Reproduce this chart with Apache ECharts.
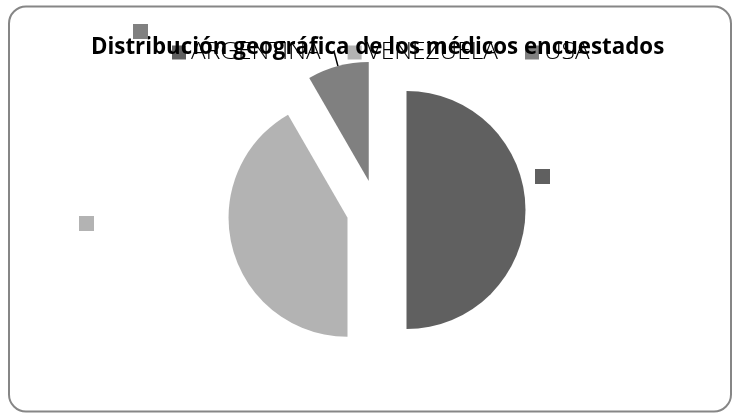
<!DOCTYPE html>
<html>
<head>
<meta charset="utf-8">
<script src="https://cdn.jsdelivr.net/npm/echarts@6/dist/echarts.min.js"></script>
<style>
  html, body { margin: 0; padding: 0; background: #fff; }
  #chart { width: 732px; height: 413px; }
</style>
</head>
<body>
<div id="chart"></div>
<script>
// Survey respondents by country
const categories = ['ARGENTINA', 'VENEZUELA', 'USA'];
const counts = [12, 10, 2];
const sliceColors = ['#606060', '#b3b3b3', '#808080'];
const titleText = 'Distribución geográfica de los médicos encuestados';

// Top-left corners of the small colour keys that stand in for slice labels
const keySpots = [[535, 169], [79, 216], [133, 24]];

const chart = echarts.init(document.getElementById('chart'), null, { renderer: 'canvas' });

// Only the USA slice keeps its (short) leader line; its label text is empty
const pieData = categories.map((name, i) => ({
  name: name,
  value: counts[i],
  selected: true,
  itemStyle: { color: sliceColors[i] },
  label: { show: name === 'USA' },
  labelLine: { show: name === 'USA' }
}));

const keyRects = categories.map((name, i) => ({
  type: 'rect',
  shape: { x: keySpots[i][0], y: keySpots[i][1], width: 15, height: 15 },
  style: { fill: sliceColors[i] },
  z: 10
}));

chart.setOption({
  animation: false,
  backgroundColor: '#fff',
  graphic: [{
    type: 'rect',
    shape: { x: 9, y: 6.5, width: 722, height: 405, r: 17 },
    style: { fill: 'none', stroke: '#868686', lineWidth: 2 },
    z: -1
  }].concat(keyRects),
  title: {
    text: titleText,
    left: 91,
    top: 37,
    padding: 0,
    textStyle: { fontFamily: 'Open Sans', fontWeight: 'bold', fontSize: 22.3, color: '#000' }
  },
  legend: {
    data: categories,
    left: 172,
    top: 40,
    padding: 0,
    icon: 'rect',
    itemWidth: 14,
    itemHeight: 14,
    itemGap: 27,
    selectedMode: false,
    z: 5,
    textStyle: { fontFamily: 'Open Sans', fontWeight: 300, fontSize: 24.5, color: '#000' }
  },
  series: [{
    type: 'pie',
    center: [376.5, 210],
    radius: 119,
    startAngle: 90,
    clockwise: true,
    selectedMode: 'multiple',
    selectedOffset: 30,
    avoidLabelOverlap: false,
    label: {
      show: false,
      position: 'outside',
      formatter: '{e|}',
      rich: { e: { width: 1, height: 1, backgroundColor: 'transparent' } }
    },
    labelLine: { show: false, length: 14, length2: 0, lineStyle: { color: '#000', width: 1.5 } },
    emphasis: { disabled: true },
    data: pieData
  }]
});
</script>
</body>
</html>
